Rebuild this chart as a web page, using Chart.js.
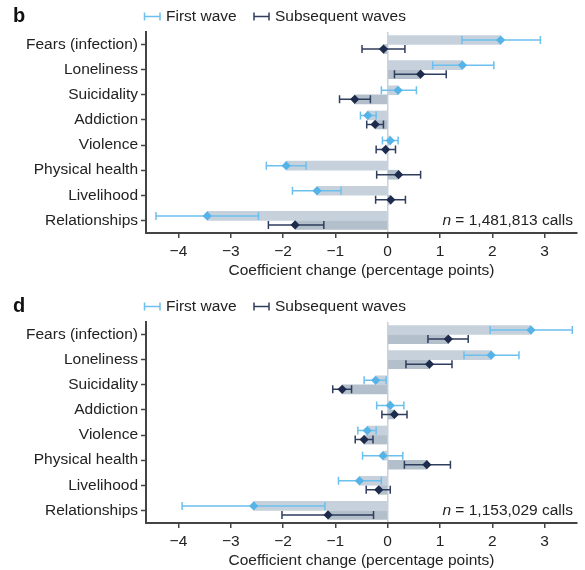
<!DOCTYPE html>
<html>
<head>
<meta charset="utf-8">
<script src="https://cdn.jsdelivr.net/npm/chart.js@4/dist/chart.umd.min.js"></script>
<style>
  body { margin: 0; background: #fff; width: 585px; height: 570px; overflow: hidden; position: relative; }
  .panel { position: absolute; left: 0; width: 585px; height: 285px; }
</style>
</head>
<body>
<div class="panel" style="top:0"><canvas id="chartB" width="585" height="285"></canvas></div>
<div class="panel" style="top:290px"><canvas id="chartD" width="585" height="285"></canvas></div>
<script>
/* ==========================================
   DATA
========================================== */

const categories = [
    "Fears (infection)", "Loneliness", "Suicidality", "Addiction",
    "Violence", "Physical health", "Livelihood", "Relationships"
];
const xTicks = [-4, -3, -2, -1, 0, 1, 2, 3];
const seriesNames = ["First wave", "Subsequent waves"];

// Panel b
const bFirst     = [2.16, 1.43, 0.20, -0.38, 0.05, -1.94, -1.35, -3.45];
const bFirstLow  = [1.42, 0.86, -0.12, -0.52, -0.10, -2.32, -1.82, -4.43];
const bFirstHigh = [2.92, 2.03, 0.55, -0.22, 0.20, -1.56, -0.89, -2.47];
const bSub       = [-0.08, 0.63, -0.63, -0.24, -0.04, 0.21, 0.06, -1.77];
const bSubLow    = [-0.49, 0.13, -0.92, -0.40, -0.22, -0.21, -0.23, -2.28];
const bSubHigh   = [0.33, 1.12, -0.33, -0.08, 0.15, 0.63, 0.34, -1.22];

// Panel d
const dFirst     = [2.74, 1.98, -0.23, 0.05, -0.39, -0.09, -0.54, -2.56];
const dFirstLow  = [1.96, 1.46, -0.45, -0.21, -0.57, -0.48, -0.94, -3.93];
const dFirstHigh = [3.53, 2.51, -0.03, 0.31, -0.22, 0.29, -0.12, -1.20];
const dSub       = [1.16, 0.80, -0.87, 0.13, -0.45, 0.75, -0.17, -1.14];
const dSubLow    = [0.77, 0.35, -1.05, -0.11, -0.62, 0.32, -0.41, -2.02];
const dSubHigh   = [1.54, 1.23, -0.69, 0.37, -0.28, 1.20, 0.05, -0.27];


/* ==========================================
   STYLE
========================================== */

const FONT = "'Liberation Sans', Arial, sans-serif";
const firstColor = "#55b3e8";
const firstErr = "#6cc0ee";
const subColor = "#1d2b4c";
const subErr = "#2f3d5e";
const firstBar = "#c6d1dc";
const subBar = "#b3bfcb";
const axisColor = "#444";
const rowOffset = 0.18;

function drawErrorIcon(ctx, x1, x2, y, color) {
    ctx.strokeStyle = color;
    ctx.lineWidth = 1.5;
    ctx.beginPath();
    ctx.moveTo(x1, y); ctx.lineTo(x2, y);
    ctx.moveTo(x1, y - 4); ctx.lineTo(x1, y + 4);
    ctx.moveTo(x2, y - 4); ctx.lineTo(x2, y + 4);
    ctx.stroke();
}

function makeChart(canvasId, letter, nText, first, firstLow, firstHigh, sub, subLow, subHigh) {

    const errorSets = [
        { low: firstLow, high: firstHigh, color: firstErr, off: -rowOffset },
        { low: subLow, high: subHigh, color: subErr, off: rowOffset }
    ];

    const panelPlugin = {
        id: "panelExtras",
        afterDatasetDraw(chart, args) {
            // error bars go on top of the bars, under the diamonds
            if (args.index !== 2) return;
            const ctx = chart.ctx;
            const xs = chart.scales.x, ys = chart.scales.y;
            ctx.save();
            errorSets.forEach(set => {
                set.low.forEach((lo, i) => {
                    const y = ys.getPixelForValue(i + set.off);
                    drawErrorIcon(ctx, xs.getPixelForValue(lo), xs.getPixelForValue(set.high[i]), y, set.color);
                });
            });
            ctx.restore();
        },
        afterDraw(chart) {
            const ctx = chart.ctx;
            const area = chart.chartArea;
            ctx.save();

            // panel letter
            ctx.fillStyle = "#111";
            ctx.font = "bold 20px " + FONT;
            ctx.textBaseline = "middle";
            ctx.textAlign = "left";
            ctx.fillText(letter, 13, 16);

            // legend
            ctx.font = "15.5px " + FONT;
            ctx.fillStyle = "#222";
            drawErrorIcon(ctx, 144.5, 160, 16.5, firstErr);
            ctx.fillText(seriesNames[0], 166, 16.5);
            drawErrorIcon(ctx, 254, 269, 16.5, subErr);
            ctx.fillText(seriesNames[1], 275, 16.5);

            // n annotation
            const ys = chart.scales.y;
            const yN = ys.getPixelForValue(categories.length - 1);
            const rest = " = " + nText + " calls";
            ctx.font = "15.5px " + FONT;
            const wRest = ctx.measureText(rest).width;
            ctx.font = "italic 15.5px " + FONT;
            const wN = ctx.measureText("n").width;
            const xEnd = area.right - 4;
            ctx.fillText("n", xEnd - wRest - wN, yN);
            ctx.font = "15.5px " + FONT;
            ctx.fillText(rest, xEnd - wRest, yN);

            ctx.restore();
        }
    };

    new Chart(document.getElementById(canvasId), {

        data: {
            datasets: [
                {
                    type: "scatter",
                    label: seriesNames[0],
                    data: first.map((v, i) => ({ x: v, y: i - rowOffset })),
                    pointStyle: "rectRot",
                    pointRadius: 4.6,
                    backgroundColor: firstColor,
                    borderWidth: 0
                },
                {
                    type: "scatter",
                    label: seriesNames[1],
                    data: sub.map((v, i) => ({ x: v, y: i + rowOffset })),
                    pointStyle: "rectRot",
                    pointRadius: 4.6,
                    backgroundColor: subColor,
                    borderWidth: 0
                },
                {
                    type: "bar",
                    data: first.map((v, i) => ({ x: v, y: i - rowOffset })),
                    backgroundColor: firstBar,
                    barThickness: 9,
                    grouped: false
                },
                {
                    type: "bar",
                    data: sub.map((v, i) => ({ x: v, y: i + rowOffset })),
                    backgroundColor: subBar,
                    barThickness: 9,
                    grouped: false
                }
            ]
        },

        options: {
            indexAxis: "y",
            responsive: false,
            animation: false,
            events: [],
            layout: { padding: { top: 32, right: 8, left: 0, bottom: 0 } },
            plugins: {
                legend: { display: false },
                tooltip: { enabled: false }
            },
            scales: {
                x: {
                    type: "linear",
                    min: -4.62,
                    max: 3.62,
                    offset: false,
                    afterBuildTicks: scale => { scale.ticks = xTicks.map(v => ({ value: v })); },
                    afterFit: scale => { scale.height = 52; },
                    border: { color: axisColor, width: 2 },
                    grid: {
                        offset: false,
                        drawOnChartArea: true,
                        color: c => (c.tick && c.tick.value === 0) ? "#c9d2dc" : "rgba(0,0,0,0)",
                        lineWidth: 1.5,
                        tickColor: axisColor,
                        tickWidth: 1.5,
                        tickLength: 5
                    },
                    ticks: {
                        color: "#222",
                        padding: 4,
                        maxRotation: 0,
                        font: { family: FONT, size: 15.5 },
                        callback: v => (v < 0 ? "\u2212" + Math.abs(v) : String(v))
                    },
                    title: {
                        display: true,
                        text: "Coefficient change (percentage points)",
                        color: "#222",
                        font: { family: FONT, size: 15.5 },
                        padding: { top: 0, bottom: 5 }
                    }
                },
                y: {
                    type: "linear",
                    reverse: true,
                    min: -0.5,
                    max: 7.5,
                    offset: false,
                    afterBuildTicks: scale => { scale.ticks = categories.map((c, i) => ({ value: i })); },
                    afterFit: scale => { scale.width = 146; },
                    border: { color: axisColor, width: 2 },
                    grid: {
                        offset: false,
                        drawOnChartArea: false,
                        tickColor: axisColor,
                        tickWidth: 1.5,
                        tickLength: 5
                    },
                    ticks: {
                        color: "#222",
                        padding: 3,
                        font: { family: FONT, size: 15.5 },
                        callback: v => categories[v]
                    }
                }
            }
        },

        plugins: [panelPlugin]
    });
}

makeChart("chartB", "b", "1,481,813", bFirst, bFirstLow, bFirstHigh, bSub, bSubLow, bSubHigh);
makeChart("chartD", "d", "1,153,029", dFirst, dFirstLow, dFirstHigh, dSub, dSubLow, dSubHigh);
</script>
</body>
</html>
